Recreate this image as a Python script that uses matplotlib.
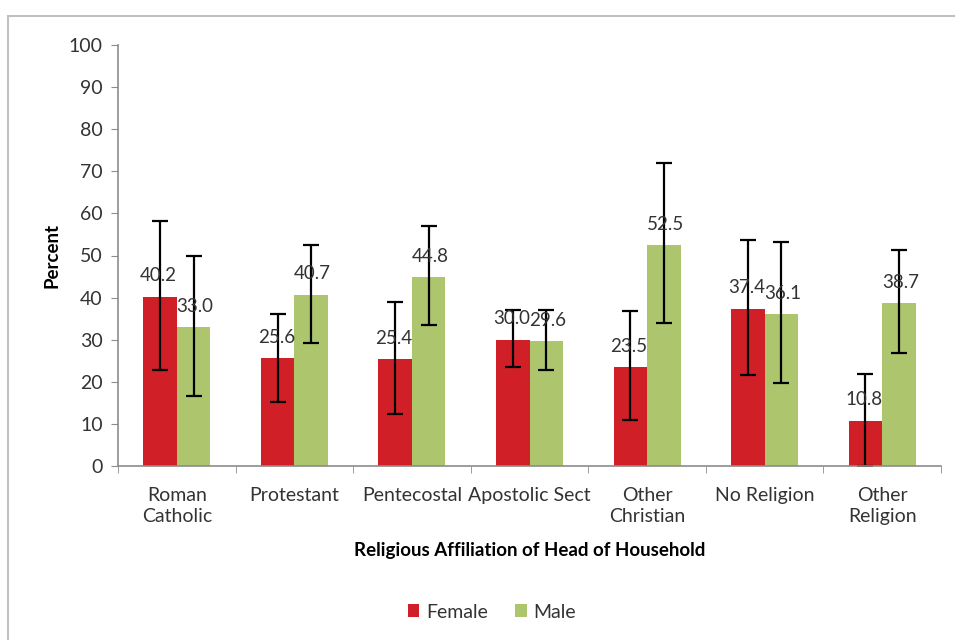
import matplotlib.pyplot as plt
from matplotlib.patches import Rectangle
import numpy as np

plt.rcParams['font.family'] = ['Lato', 'DejaVu Sans']

categories = ['Roman\nCatholic', 'Protestant', 'Pentecostal', 'Apostolic Sect',
              'Other\nChristian', 'No Religion', 'Other\nReligion']
female = [40.2, 25.6, 25.4, 30.0, 23.5, 37.4, 10.8]
male = [33.0, 40.7, 44.8, 29.6, 52.5, 36.1, 38.7]
female_lo = [22.8, 15.3, 12.3, 23.6, 10.9, 21.6, 0.0]
female_hi = [58.3, 36.2, 39.0, 37.1, 36.7, 53.7, 21.8]
male_lo = [16.7, 29.3, 33.4, 22.8, 34.0, 19.8, 26.8]
male_hi = [49.9, 52.4, 57.0, 37.1, 71.9, 53.1, 51.3]

red = '#d01f26'
green = '#adc56d'
grey = '#8c8c8c'
txt = '#333333'

fig = plt.figure(figsize=(9.55, 6.4), dpi=100)
ax = fig.add_axes([118/955, 1 - 466/640, (941 - 118)/955, (466 - 45)/640])

# chart-area frame
fig.patches.append(Rectangle((8/955, -0.1), 2, 1 - 16/640 + 0.1, transform=fig.transFigure,
                             fill=False, edgecolor='#c0c0c0', lw=1.5))

x = np.arange(len(categories))
w = 0.285
f = np.array(female)
m = np.array(male)
ferr = [f - np.array(female_lo), np.array(female_hi) - f]
merr = [m - np.array(male_lo), np.array(male_hi) - m]

ax.bar(x - w/2, f, w, color=red, label='Female')
ax.bar(x + w/2, m, w, color=green, label='Male')
ekw = dict(fmt='none', ecolor='black', elinewidth=1.6, capsize=6, capthick=1.6)
ax.errorbar(x - w/2, f, yerr=ferr, **ekw)
ax.errorbar(x + w/2, m, yerr=merr, **ekw)

for xi, v in zip(x - w/2, f):
    ax.annotate(f'{v:.1f}', (xi, v), xytext=(-1, 15), textcoords='offset points',
                ha='center', va='center', fontsize=13.5, color=txt)
for xi, v in zip(x + w/2, m):
    ax.annotate(f'{v:.1f}', (xi, v), xytext=(1, 15), textcoords='offset points',
                ha='center', va='center', fontsize=13.5, color=txt)

ax.set_xlim(-0.5, 6.5)
ax.set_ylim(0, 100)
ax.set_yticks(range(0, 101, 10))
ax.set_xticks(x)
ax.set_xticklabels(categories, fontsize=14, color=txt, linespacing=1.3)
ax.set_xticks(np.arange(-0.5, 7, 1), minor=True)
ax.tick_params(axis='x', which='major', length=0, pad=15)
ax.tick_params(axis='x', which='minor', length=5, color=grey, direction='out')
ax.tick_params(axis='y', labelsize=14, colors=txt, length=5, direction='out', pad=6)
ax.tick_params(axis='y', color=grey)

for s in ['top', 'right']:
    ax.spines[s].set_visible(False)
for s in ['left', 'bottom']:
    ax.spines[s].set_color(grey)
    ax.spines[s].set_linewidth(1.2)

ax.set_ylabel('Percent', fontsize=13.5, fontweight='bold', color='black', labelpad=6)
ax.set_xlabel('Religious Affiliation of Head of Household', fontsize=13.5,
              fontweight='bold', color='black', labelpad=12)

leg = fig.legend(loc='center', bbox_to_anchor=(492/955, 1 - 612/640), ncol=2, frameon=False,
                 fontsize=14, handlelength=0.6, handleheight=0.6, handletextpad=0.35,
                 columnspacing=1.4)
for t in leg.get_texts():
    t.set_color(txt)

fig.savefig('out.png', dpi=100)
